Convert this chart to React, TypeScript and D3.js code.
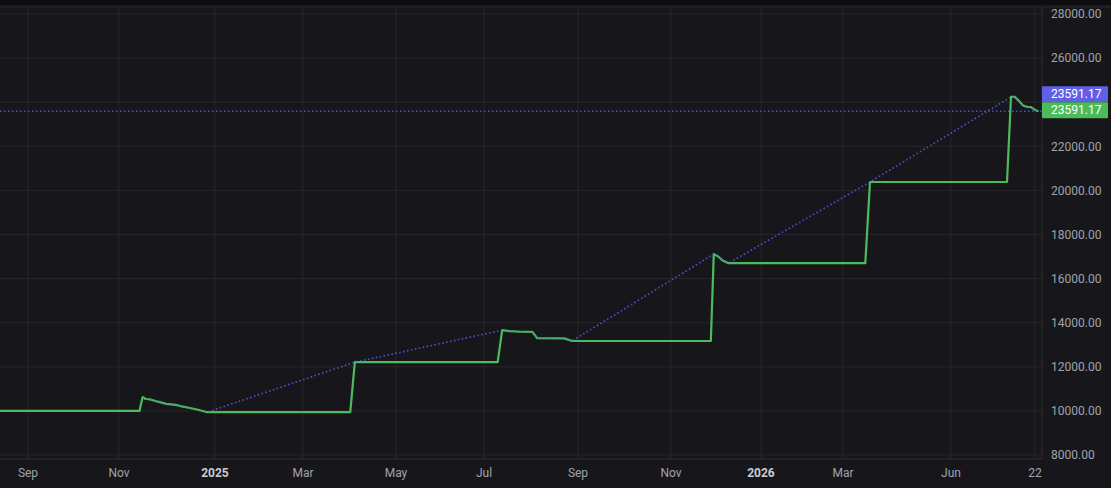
import * as d3 from 'd3';

// Equity (step) series
const equityDates = [
  '2024-08-13', '2024-11-14', '2024-11-16', '2024-11-18', '2024-11-21', '2024-11-24',
  '2024-11-27', '2024-12-01', '2024-12-07', '2024-12-10', '2024-12-16', '2024-12-22',
  '2024-12-27', '2025-04-01', '2025-04-04', '2025-07-10', '2025-07-13', '2025-07-18',
  '2025-07-25', '2025-08-02', '2025-08-05', '2025-08-23', '2025-08-28', '2025-11-28',
  '2025-11-30', '2025-12-03', '2025-12-06', '2025-12-10', '2026-03-20', '2026-03-24',
  '2026-06-15', '2026-06-16', '2026-06-17', '2026-06-18', '2026-06-19', '2026-06-20',
  '2026-06-21', '2026-06-22', '2026-06-23',
];
const equityValues = [
  10000, 10000, 10630, 10540, 10520, 10450,
  10400, 10320, 10270, 10220, 10130, 10040,
  9940, 9940, 12210, 12210, 13660, 13620,
  13590, 13580, 13300, 13290, 13170, 13170,
  17110, 17000, 16820, 16700, 16700, 20380,
  20380, 24240, 24240, 24050, 23850, 23790,
  23780, 23650, 23591.17,
];

// Value series that only exists on change days (drawn dotted, linearly joined)
const markDates = [
  '2024-11-16', '2024-11-18', '2024-11-21', '2024-11-24', '2024-11-27', '2024-12-01',
  '2024-12-07', '2024-12-10', '2024-12-16', '2024-12-22', '2024-12-27', '2025-04-04',
  '2025-07-13', '2025-07-18', '2025-07-25', '2025-08-02', '2025-08-05', '2025-08-23',
  '2025-08-28', '2025-11-30', '2025-12-03', '2025-12-06', '2025-12-10', '2026-03-24',
  '2026-06-16', '2026-06-17', '2026-06-18', '2026-06-19', '2026-06-20', '2026-06-21',
  '2026-06-22', '2026-06-23',
];
const markValues = [
  10630, 10540, 10520, 10450, 10400, 10320,
  10270, 10220, 10130, 10040, 9940, 12210,
  13660, 13620, 13590, 13580, 13300, 13290,
  13170, 17110, 17000, 16820, 16700, 20380,
  24240, 24240, 24050, 23850, 23790, 23780,
  23650, 23591.17,
];

const priceTicks = [8000, 10000, 12000, 14000, 16000, 18000, 20000, 22000, 24000, 26000, 28000];
const timeTickDates = [
  '2024-09-01', '2024-11-01', '2025-01-01', '2025-03-01', '2025-05-01', '2025-07-01',
  '2025-09-01', '2025-11-01', '2026-01-01', '2026-03-01', '2026-06-01', '2026-06-22',
];
const timeTickLabels = ['Sep', 'Nov', '2025', 'Mar', 'May', 'Jul', 'Sep', 'Nov', '2026', 'Mar', 'Jun', '22'];
const viewStart = '2024-08-13';
const viewEnd = '2026-06-24';

// layout
const W = 1111;
const H = 488;
const PANE_RIGHT = 1042;
const PANE_TOP = 7;
const PANE_BOTTOM = 459;
// bar-index style time axis: the spacing between ticks is not uniform in calendar time
const TICK_X = [28, 119, 215, 303, 396, 484, 578, 671, 761, 843, 951, 1035];
const TAG_H = 16;

const BG = '#17171b';
const GRID = '#26262b';
const GREEN = '#4cbb5a';
const BLUE_LINE = '#4b4fc6';
const BLUE_TAG = '#5f5fe8';
const AXIS_TEXT = '#a0a3ab';
const FONT = 'Roboto, "Noto Sans", sans-serif';

const parse = d3.timeParse('%Y-%m-%d');

export default function App() {
  const x = d3
    .scaleTime()
    .domain([viewStart, ...timeTickDates, viewEnd].map(d => parse(d)!))
    .range([0, ...TICK_X, PANE_RIGHT]);
  const y = d3.scaleLinear().domain([8000, 28000]).range([455, 14]);

  const equity = equityDates.map((d, i) => ({ date: parse(d)!, value: equityValues[i] }));
  const marks = markDates.map((d, i) => ({ date: parse(d)!, value: markValues[i] }));

  const line = d3
    .line<{ date: Date; value: number }>()
    .x(d => x(d.date))
    .y(d => y(d.value));

  const last = equityValues[equityValues.length - 1];
  const lastY = y(last);
  const greenTagY = lastY - 9;
  const blueTagY = greenTagY - TAG_H;

  // axis labels hidden behind the value tags, as the price scale does
  const visibleTicks = priceTicks.filter(t => {
    const ty = y(t);
    return ty < blueTagY - 7 || ty > greenTagY + TAG_H + 7;
  });

  return (
    <svg
      width={W}
      height={H}
      style={{ position: 'fixed', left: 0, top: 0, display: 'block', background: BG }}
      fontFamily={FONT}
    >
      <rect x={0} y={0} width={W} height={5} fill="#0d0d0f" />

      {/* grid */}
      {priceTicks.map(t => (
        <line key={t} x1={0} x2={PANE_RIGHT} y1={y(t)} y2={y(t)} stroke={GRID} strokeWidth={1} />
      ))}
      {timeTickDates.map(d => (
        <line key={d} x1={x(parse(d)!)} x2={x(parse(d)!)} y1={PANE_TOP} y2={PANE_BOTTOM} stroke={GRID} strokeWidth={1} />
      ))}

      {/* pane borders */}
      <line x1={0} x2={W} y1={PANE_TOP} y2={PANE_TOP} stroke="#2a2a2f" />
      <line x1={0} x2={PANE_RIGHT} y1={PANE_BOTTOM} y2={PANE_BOTTOM} stroke="#2e2e33" />
      <line x1={PANE_RIGHT} x2={PANE_RIGHT} y1={PANE_TOP} y2={PANE_BOTTOM} stroke="#2e2e33" />

      {/* last value price line */}
      <line x1={0} x2={PANE_RIGHT} y1={lastY} y2={lastY} stroke={BLUE_LINE} strokeWidth={1.5} strokeDasharray="1.5 2.5" />

      {/* dotted series */}
      <path d={line(marks) ?? ''} fill="none" stroke={BLUE_LINE} strokeWidth={1.6} strokeDasharray="1.5 2.5" />

      {/* equity */}
      <path d={line(equity) ?? ''} fill="none" stroke={GREEN} strokeWidth={2.2} strokeLinejoin="round" />
      <path d={line(marks) ?? ''} fill="none" stroke={BLUE_LINE} strokeWidth={1.2} strokeDasharray="1.5 2.5" opacity={0.5} />

      {/* price axis */}
      {visibleTicks.map(t => (
        <text key={t} x={1051} y={y(t)} dy="0.35em" fontSize={12} fill={AXIS_TEXT}>
          {t.toFixed(2)}
        </text>
      ))}

      {/* time axis */}
      {timeTickDates.map((d, i) => {
        const isYear = /^\d{4}$/.test(timeTickLabels[i]);
        return (
          <text
            key={d}
            x={x(parse(d)!)}
            y={477}
            textAnchor="middle"
            fontSize={12}
            fontWeight={isYear ? 700 : 400}
            fill={isYear ? '#c9ccd4' : AXIS_TEXT}
          >
            {timeTickLabels[i]}
          </text>
        );
      })}

      {/* last value tags */}
      <rect x={PANE_RIGHT} y={blueTagY} width={66} height={TAG_H} fill={BLUE_TAG} rx={1} />
      <text x={1051} y={blueTagY + TAG_H / 2} dy="0.35em" fontSize={12} fill="#ffffff">
        {last.toFixed(2)}
      </text>
      <rect x={PANE_RIGHT} y={greenTagY} width={66} height={TAG_H} fill={GREEN} rx={1} />
      <text x={1051} y={greenTagY + TAG_H / 2} dy="0.35em" fontSize={12} fill="#ffffff">
        {last.toFixed(2)}
      </text>
    </svg>
  );
}
